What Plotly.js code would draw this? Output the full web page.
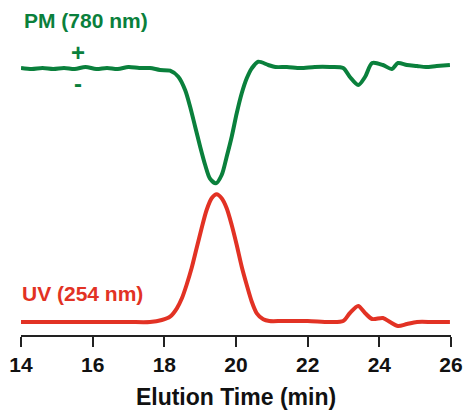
<!DOCTYPE html>
<html>
<head>
<meta charset="utf-8">
<script src="https://cdn.plot.ly/plotly-3.0.1.min.js"></script>
<style>html,body{margin:0;padding:0;background:#fff;}#chart{width:464px;height:410px;}</style>
</head>
<body>
<div id="chart"></div>
<script>
// Elution time (min) and detector signals (arbitrary units, stacked traces)
var pmTime = [14.0,14.3,14.6,14.9,15.2,15.5,15.8,16.1,16.4,16.7,17.0,17.3,17.6,17.88,18.16,18.39,18.58,18.72,18.86,19.00,19.14,19.27,19.44,19.60,19.74,19.88,20.02,20.16,20.30,20.44,20.62,20.90,21.1,21.42,21.8,22.2,22.62,22.99,23.18,23.41,23.60,23.80,24.10,24.35,24.52,24.77,25.05,25.3,25.6,25.97];
var pmSignal = [267,266,267,266,267,266,268,266,267,266,268,267,267,265,264.3,258.3,245,228.3,208.3,188.3,170,156.7,151.7,160,178.3,198.3,221.7,241.7,256.7,266.7,273.3,270,268,268,267,268,268,267,258,250,258,272,270,266,272,270,269,268,269,270];

var uvTime = [14.0,15.0,16.0,17.0,17.6,17.93,18.16,18.35,18.49,18.62,18.76,18.90,19.04,19.18,19.32,19.46,19.60,19.74,19.88,20.02,20.16,20.30,20.44,20.58,20.76,20.93,21.3,22.0,22.62,22.99,23.18,23.41,23.60,23.80,24.10,24.30,24.52,24.77,25.05,25.5,25.97];
var uvSignal = [13,13,13,13,13,15,18.3,26.7,36.7,50,66.7,86.7,106.7,125,136.7,140.7,136.7,126.7,110,90,68.3,50,33.3,21.7,15.7,14,14,14,13,14,22,29,22,16,17,13,9,11,13,13,13];

var xTicks = [14,16,18,20,22,24,26];

var green = 'rgb(10,128,60)';
var red = 'rgb(226,50,36)';

var traces = [
  {x: pmTime, y: pmSignal, type: 'scatter', mode: 'lines', line: {color: green, width: 4, shape: 'spline', smoothing: 0.8}, hoverinfo: 'skip'},
  {x: uvTime, y: uvSignal, type: 'scatter', mode: 'lines', line: {color: red, width: 4, shape: 'spline', smoothing: 0.8}, hoverinfo: 'skip'}
];

var layout = {
  width: 464, height: 410,
  margin: {l: 21, r: 13, t: 10, b: 75},
  paper_bgcolor: '#fff', plot_bgcolor: '#fff',
  showlegend: false,
  font: {family: 'Liberation Sans, Arial, sans-serif', color: '#111'},
  xaxis: {
    range: [14, 26], tickvals: xTicks, ticktext: xTicks.map(String),
    showgrid: false, zeroline: false, showline: true, linecolor: '#222', linewidth: 2,
    ticks: 'outside', ticklen: 10, tickwidth: 2, tickcolor: '#222',
    tickfont: {size: 21, family: 'Liberation Sans, Arial, sans-serif', color: '#111', weight: 'bold'},
    title: {text: '<b>Elution Time (min)</b>', font: {size: 23, color: '#111'}, standoff: 14}
  },
  yaxis: {range: [0, 325], visible: false, showgrid: false, zeroline: false, fixedrange: true},
  annotations: [
    {x: 0.002, y: 315, xref: 'paper', yref: 'y', xanchor: 'left', yanchor: 'middle', showarrow: false,
     text: '<b>PM (780 nm)</b>', font: {size: 21, color: green}},
    {x: 15.6, y: 283, xref: 'x', yref: 'y', xanchor: 'center', yanchor: 'middle', showarrow: false,
     text: '<b>+</b>', font: {size: 24, color: green}},
    {x: 15.6, y: 252, xref: 'x', yref: 'y', xanchor: 'center', yanchor: 'middle', showarrow: false,
     text: '<b>-</b>', font: {size: 24, color: green}},
    {x: -0.002, y: 42, xref: 'paper', yref: 'y', xanchor: 'left', yanchor: 'middle', showarrow: false,
     text: '<b>UV (254 nm)</b>', font: {size: 21, color: red}}
  ]
};

Plotly.newPlot('chart', traces, layout, {staticPlot: true, displayModeBar: false});
</script>
</body>
</html>
